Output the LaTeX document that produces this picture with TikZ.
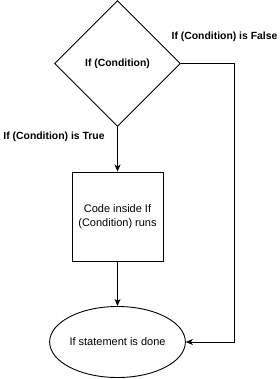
\documentclass[tikz,border=0pt]{standalone}
\usepackage{fontspec}
\setmainfont{Liberation Sans}
\usetikzlibrary{shapes.geometric,arrows.meta}
\begin{document}
\begin{tikzpicture}[x=1pt,y=-1pt,
  every node/.style={font=\fontsize{11}{14}\selectfont},
  shapebox/.style={draw=black,line width=0.9pt,inner sep=0pt,align=center},
  conn/.style={draw=black,line width=0.9pt,-{Stealth[length=7pt,width=6pt,inset=2pt]}},
  lbl/.style={font=\fontsize{10.4}{14}\selectfont\bfseries,inner sep=0pt}]
\useasboundingbox (0,0) rectangle (279,379);
\node[shapebox,diamond,minimum width=126pt,minimum height=126pt,font=\fontsize{10.4}{14}\selectfont\bfseries] (cond) at (117.5,63.5) {If (Condition)};
\node[shapebox,rectangle,minimum width=91pt,minimum height=89pt] (code) at (117.5,216.5) {Code inside If\\(Condition) runs};
\node[shapebox,ellipse,minimum width=108pt,minimum height=71pt] (done) at (117.5,342) {If statement is done};
\coordinate (c1) at (234,63.5);
\coordinate (c2) at (234,342);
\draw[conn] (cond.south) -- (code.north);
\draw[conn] (code.south) -- (done.north);
\draw[conn] (cond.east) -- (c1) -- (c2) -- (done.east);
\node[lbl] (lf) at (224.5,37) {If (Condition) is False};
\node[lbl] (lt) at (54,137) {If (Condition) is True};
\end{tikzpicture}
\end{document}
